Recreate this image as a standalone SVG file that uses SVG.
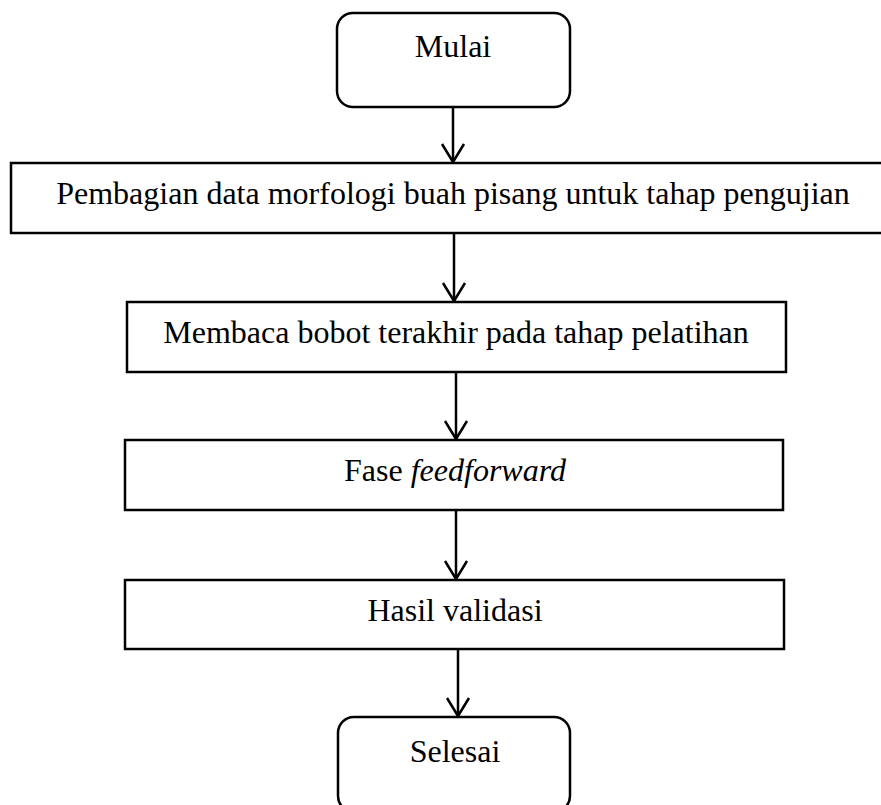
<svg xmlns="http://www.w3.org/2000/svg" width="881" height="805" viewBox="0 0 881 805">
  <style>
    .box { fill: #ffffff; stroke: #000000; stroke-width: 2.5; }
    .lbl { font-family: "Liberation Serif", "Times New Roman", serif; font-size: 32px; fill: #000000; text-anchor: middle; }
    .edge { fill: none; stroke: #000000; stroke-width: 2.5; }
  </style>
  <rect width="881" height="805" fill="#ffffff"/>

  <g id="connectors">
    <line class="edge" x1="453" y1="107" x2="453" y2="162"/>
    <line class="edge" x1="454" y1="233" x2="454" y2="301"/>
    <line class="edge" x1="456" y1="372" x2="456" y2="439"/>
    <line class="edge" x1="456" y1="510" x2="456" y2="579"/>
    <line class="edge" x1="458" y1="649" x2="458" y2="716"/>
    <path class="edge" d="M442,144 L453,162 L464,144"/>
    <path class="edge" d="M443,283 L454,301 L465,283"/>
    <path class="edge" d="M445,421 L456,439 L467,421"/>
    <path class="edge" d="M445,561 L456,579 L467,561"/>
    <path class="edge" d="M447,698 L458,716 L469,698"/>
  </g>

  <g id="start">
    <rect class="box" x="337" y="13" width="233" height="94" rx="16" ry="16"/>
    <text class="lbl" x="453" y="57">Mulai</text>
  </g>

  <g id="split-data">
    <rect class="box" x="11" y="163" width="875" height="70"/>
    <text class="lbl" x="453" y="204">Pembagian data morfologi buah pisang untuk tahap pengujian</text>
  </g>

  <g id="read-weights">
    <rect class="box" x="127" y="302" width="659" height="70"/>
    <text class="lbl" x="456" y="343">Membaca bobot terakhir pada tahap pelatihan</text>
  </g>

  <g id="feedforward">
    <rect class="box" x="125" y="440" width="658" height="70"/>
    <text class="lbl" x="455" y="481">Fase <tspan font-style="italic">feedforward</tspan></text>
  </g>

  <g id="validation">
    <rect class="box" x="125" y="580" width="659" height="69"/>
    <text class="lbl" x="455" y="621">Hasil validasi</text>
  </g>

  <g id="end">
    <rect class="box" x="338" y="717" width="232" height="95" rx="16" ry="16"/>
    <text class="lbl" x="455" y="762">Selesai</text>
  </g>
</svg>
